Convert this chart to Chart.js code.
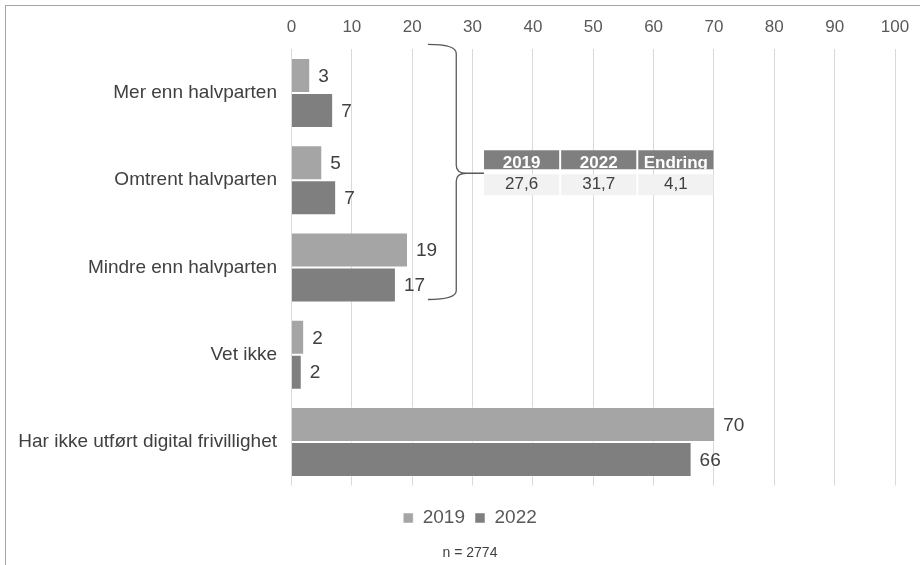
<!DOCTYPE html>
<html>
<head>
<meta charset="utf-8">
<script src="https://cdn.jsdelivr.net/npm/chart.js@4/dist/chart.umd.min.js"></script>
<style>
  body { margin: 0; background: #fff; }
  #wrap { position: relative; width: 920px; height: 565px; overflow: hidden; }
  #frame { position: absolute; left: 5px; top: 5px; width: 1000px; height: 1000px;
           border-left: 1px solid #a6a6a6; border-top: 1px solid #a6a6a6; pointer-events: none; }
  canvas { position: absolute; left: 0; top: 0; }
</style>
</head>
<body>
<div id="wrap">
  <canvas id="chart" width="940" height="565"></canvas>
  <div id="frame"></div>
</div>
<script>
const categories = ['Mer enn halvparten', 'Omtrent halvparten', 'Mindre enn halvparten', 'Vet ikke', 'Har ikke utført digital frivillighet'];
const values2019 = [3.1, 5.1, 19.3, 2.1, 70.2];
const values2022 = [6.9, 7.4, 17.3, 1.7, 66.3];
const seriesNames = ['2019', '2022'];
const xTicks = [0, 10, 20, 30, 40, 50, 60, 70, 80, 90, 100];

// summary table beside the brace (share for the first three answers)
const tableHead = ['2019', '2022', 'Endring'];
const tableRow = ['27,6', '31,7', '4,1'];
const sampleNote = 'n = 2774';

const FONT = "'Liberation Sans', Arial, sans-serif";

// value labels right of each bar
const barLabels = {
    id: 'barLabels',
    afterDatasetsDraw(chart) {
        const ctx = chart.ctx;
        ctx.save();
        ctx.font = '19px ' + FONT;
        ctx.fillStyle = '#404040';
        ctx.textAlign = 'left';
        ctx.textBaseline = 'middle';
        chart.data.datasets.forEach((ds, i) => {
            chart.getDatasetMeta(i).data.forEach((bar, j) => {
                ctx.fillText(String(Math.round(ds.data[j])), bar.x + 8, bar.y + 1);
            });
        });
        ctx.restore();
    }
};

// brace over the first three categories + the little table + n note
const extras = {
    id: 'extras',
    afterDraw(chart) {
        const ctx = chart.ctx;
        const x = chart.scales.x, y = chart.scales.y, area = chart.chartArea;
        const xl = x.getPixelForValue(22.6);
        const xv = x.getPixelForValue(27.3);
        const xt = x.getPixelForValue(31.9);
        const top = area.top - 5;
        const bot = y.getPixelForValue(2) + 32;
        const tip = y.getPixelForValue(1) - 7;

        ctx.save();
        ctx.strokeStyle = '#595959';
        ctx.lineWidth = 1.3;
        ctx.beginPath();
        ctx.moveTo(xl, top);
        ctx.quadraticCurveTo(xv, top, xv, top + 9);
        ctx.lineTo(xv, tip - 8);
        ctx.quadraticCurveTo(xv, tip, xv + 10, tip);
        ctx.lineTo(xt, tip);
        ctx.moveTo(xv + 10, tip);
        ctx.quadraticCurveTo(xv, tip, xv, tip + 8);
        ctx.lineTo(xv, bot - 9);
        ctx.quadraticCurveTo(xv, bot, xl, bot);
        ctx.stroke();

        // table
        const colStart = x.getPixelForValue(31.9);
        const colW = x.getPixelForValue(12.45) - x.getPixelForValue(0);
        const gap = 2;
        const headTop = tip - 23, headH = 19;
        const rowTop = tip + 1, rowH = 21;
        ctx.textAlign = 'center';
        ctx.textBaseline = 'middle';
        tableHead.forEach((t, i) => {
            const cx = colStart + i * (colW + gap);
            ctx.fillStyle = '#7f7f7f';
            ctx.fillRect(cx, headTop, colW, headH);
            ctx.fillStyle = '#f2f2f2';
            ctx.fillRect(cx, rowTop, colW, rowH);
            ctx.save();
            ctx.beginPath();
            ctx.rect(cx, headTop, colW, headH);
            ctx.clip();
            ctx.font = 'bold 17px ' + FONT;
            ctx.fillStyle = '#ffffff';
            ctx.fillText(t, cx + colW / 2, headTop + headH / 2 + 4);
            ctx.restore();
            ctx.font = '17px ' + FONT;
            ctx.fillStyle = '#404040';
            ctx.fillText(tableRow[i], cx + colW / 2, rowTop + rowH / 2);
        });

        // sample size
        ctx.font = '14px ' + FONT;
        ctx.fillStyle = '#404040';
        ctx.fillText(sampleNote, 470, area.bottom + 67.5);
        ctx.restore();
    }
};

const ctx = document.getElementById('chart').getContext('2d');
new Chart(ctx, {
    type: 'bar',
    data: {
        labels: categories,
        datasets: [
            {
                label: seriesNames[0],
                data: values2019,
                backgroundColor: '#a5a5a5',
                borderColor: 'rgba(255,255,255,0.5)',
                borderWidth: 1,
                categoryPercentage: 0.8,
                barPercentage: 1.0
            },
            {
                label: seriesNames[1],
                data: values2022,
                backgroundColor: '#7f7f7f',
                borderColor: 'rgba(255,255,255,0.5)',
                borderWidth: 1,
                categoryPercentage: 0.8,
                barPercentage: 1.0
            }
        ]
    },
    options: {
        indexAxis: 'y',
        responsive: false,
        animation: false,
        layout: { padding: { left: 0, right: 0, top: 0, bottom: 27.5 } },
        scales: {
            x: {
                position: 'top',
                min: 0,
                max: 100,
                afterBuildTicks: (scale) => { scale.ticks = xTicks.map(v => ({ value: v })); },
                afterFit: (scale) => { scale.height = 49.4; },
                grid: { color: '#d9d9d9', lineWidth: 1, drawTicks: false },
                border: { display: false },
                ticks: {
                    padding: 12,
                    color: '#595959',
                    font: { family: FONT, size: 17 }
                }
            },
            y: {
                afterFit: (scale) => { scale.width = 291.5; },
                grid: { display: false, drawTicks: false },
                border: { display: false },
                ticks: {
                    padding: 14.5,
                    color: '#404040',
                    font: { family: FONT, size: 19 }
                }
            },
            // empty spacer axes, only used to place plot area and legend
            yRight: {
                type: 'category',
                position: 'right',
                afterFit: (scale) => { scale.width = 45; },
                grid: { display: false, drawTicks: false },
                border: { display: false },
                ticks: { display: false }
            },
            xBottom: {
                type: 'linear',
                position: 'bottom',
                afterFit: (scale) => { scale.height = 12.9; },
                grid: { display: false, drawTicks: false },
                border: { display: false },
                ticks: { display: false }
            }
        },
        plugins: {
            legend: {
                position: 'bottom',
                labels: {
                    boxWidth: 10,
                    boxHeight: 10,
                    padding: 10,
                    color: '#595959',
                    font: { family: FONT, size: 19 }
                }
            },
            tooltip: { enabled: false }
        }
    },
    plugins: [barLabels, extras]
});
</script>
</body>
</html>
